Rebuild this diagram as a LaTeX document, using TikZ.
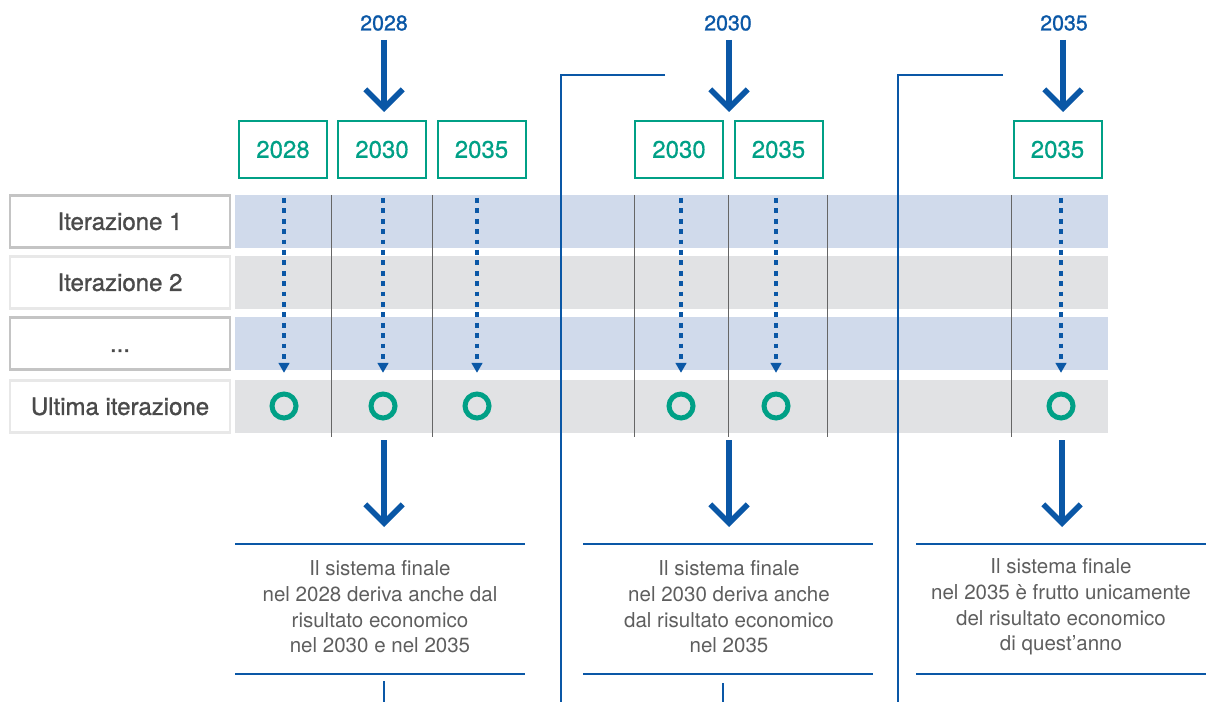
\documentclass[tikz,border=0pt]{standalone}
\usepackage{fontspec}
\setmainfont{TeX Gyre Heros}
\newfontfamily\mediumface[FakeBold=1.1]{TeX Gyre Heros}
\newfontfamily\semiface[FakeBold=0.5]{TeX Gyre Heros}
\usetikzlibrary{arrows.meta}

\definecolor{mainblue}{HTML}{0A57A6}
\definecolor{yeargreen}{HTML}{00A086}
\definecolor{bandblue}{HTML}{D0DAEB}
\definecolor{bandgray}{HTML}{E1E2E4}
\definecolor{frameA}{HTML}{C4C4C4}
\definecolor{frameB}{HTML}{E8E8E8}
\definecolor{labeltext}{HTML}{4A4A4A}
\definecolor{notetext}{HTML}{5E5E5E}
\definecolor{gridline}{HTML}{666666}

\tikzset{
  rowlabel/.style={draw=#1, line width=1.6pt, fill=white, inner sep=0pt,
    minimum width=165pt, minimum height=39pt, text=labeltext,
    text height=12.6pt, text depth=0pt,
    font=\mediumface\fontsize{18pt}{21pt}\selectfont},
  yearbox/.style={draw=yeargreen, line width=1.5pt, inner sep=0pt,
    minimum width=66pt, minimum height=42.75pt, text=yeargreen,
    font=\semiface\fontsize{18pt}{21pt}\selectfont},
  yeartop/.style={text=mainblue, inner sep=0pt,
    font=\mediumface\fontsize{16pt}{19pt}\selectfont},
  result/.style={circle, draw=yeargreen, line width=3.75pt, inner sep=0pt,
    minimum size=18pt},
  dotarrow/.style={draw=mainblue, line width=2.3pt,
    dash pattern=on 3.6pt off 4.2pt,
    -{Triangle[length=7.5pt,width=8pt]}, shorten >=14pt},
  bigarrow/.style={draw=mainblue, line width=4.2pt,
    -{Straight Barb[length=14pt,width=28pt,line width=4.2pt]}},
  blueline/.style={draw=mainblue, line width=2.1pt},
  gridrule/.style={draw=gridline, line width=0.65pt},
  note/.style={align=center, text=notetext, inner sep=0pt,
    font=\fontsize{15.4pt}{19.2pt}\selectfont},
}

\begin{document}
\begin{tikzpicture}[x=0.75pt, y=-0.75pt]
\useasboundingbox (0,0) rectangle (1206,702);

% iteration bands
\fill[bandblue] (235,195) rectangle (1108,248);
\fill[bandgray] (235,256) rectangle (1108,309);
\fill[bandblue] (235,317) rectangle (1108,370);
\fill[bandgray] (235,380) rectangle (1108,433);

% column separators
\foreach \gx in {331,432,634,728,827,1011}
  \draw[gridrule] (\gx,195) -- (\gx,437);

% row labels
\node[rowlabel=frameA] (r1) at (120,221.5) {Iterazione 1};
\node[rowlabel=frameB] (r2) at (120,282.5) {Iterazione 2};
\node[rowlabel=frameA] (r3) at (120,343.5) {...};
\node[rowlabel=frameB] (r4) at (120,406.5) {Ultima iterazione};

% brackets separating the three cases
\coordinate (k1a) at (665,75);
\coordinate (k1b) at (561,75);
\coordinate (k1c) at (561,702);
\coordinate (k2a) at (1003,75);
\coordinate (k2b) at (898,75);
\coordinate (k2c) at (898,702);
\draw[blueline, line join=miter] (k1a) -- (k1b) -- (k1c);
\draw[blueline, line join=miter] (k2a) -- (k2b) -- (k2c);

% year boxes
\node[yearbox] (b1) at (283,149.5) {2028};
\node[yearbox] (b2) at (382,149.5) {2030};
\node[yearbox] (b3) at (481.5,149.5) {2035};
\node[yearbox] (b4) at (679,149.5) {2030};
\node[yearbox] (b5) at (778.5,149.5) {2035};
\node[yearbox] (b6) at (1057.5,149.5) {2035};

% reference years and their arrows
\node[yeartop] (t1) at (384,23) {2028};
\node[yeartop] (t2) at (728,23) {2030};
\node[yeartop] (t3) at (1064,23) {2035};
\coordinate (ta1) at (384,40);  \coordinate (te1) at (384,112);
\coordinate (ta2) at (729,40);  \coordinate (te2) at (729,112);
\coordinate (ta3) at (1063,40); \coordinate (te3) at (1063,112);
\draw[bigarrow] (ta1) -- (te1);
\draw[bigarrow] (ta2) -- (te2);
\draw[bigarrow] (ta3) -- (te3);

% final results on the last iteration
\node[result] (c1) at (284,406) {};
\node[result] (c2) at (383,406) {};
\node[result] (c3) at (477,406) {};
\node[result] (c4) at (681,406) {};
\node[result] (c5) at (776,406) {};
\node[result] (c6) at (1061,406) {};

% iterations flowing down to the result
\foreach \i/\dx in {1/284,2/383,3/477,4/681,5/776,6/1061}{
  \coordinate (d\i) at (\dx,198);
  \draw[dotarrow] (d\i) -- (c\i.north);
}

% arrows towards the conclusions
\coordinate (ba1) at (384,440);  \coordinate (be1) at (384,527);
\coordinate (ba2) at (729,440);  \coordinate (be2) at (729,527);
\coordinate (ba3) at (1062,440); \coordinate (be3) at (1062,527);
\draw[bigarrow] (ba1) -- (be1);
\draw[bigarrow] (ba2) -- (be2);
\draw[bigarrow] (ba3) -- (be3);

% conclusion panels
\coordinate (p1l) at (235,544); \coordinate (p1r) at (525,544);
\coordinate (q1l) at (235,674); \coordinate (q1r) at (525,674);
\coordinate (p2l) at (583,544); \coordinate (p2r) at (873,544);
\coordinate (q2l) at (583,674); \coordinate (q2r) at (873,674);
\coordinate (p3l) at (916,544); \coordinate (p3r) at (1206,544);
\coordinate (q3l) at (916,674); \coordinate (q3r) at (1206,674);
\draw[blueline] (p1l) -- (p1r);
\draw[blueline] (q1l) -- (q1r);
\draw[blueline] (p2l) -- (p2r);
\draw[blueline] (q2l) -- (q2r);
\draw[blueline] (p3l) -- (p3r);
\draw[blueline] (q3l) -- (q3r);

\node[note] (n1) at (380,607) {Il sistema finale\\nel 2028 deriva anche dal\\risultato economico\\nel 2030 e nel 2035};
\node[note] (n2) at (729,607) {Il sistema finale\\nel 2030 deriva anche\\dal risultato economico\\nel 2035};
\node[note] (n3) at (1061,607) {Il sistema finale\\nel 2035 è frutto unicamente\\del risultato economico\\di quest’anno};

% continuation stubs
\coordinate (s1a) at (384,681); \coordinate (s1b) at (384,702);
\coordinate (s2a) at (723,683); \coordinate (s2b) at (723,702);
\draw[blueline] (s1a) -- (s1b);
\draw[blueline] (s2a) -- (s2b);
\end{tikzpicture}
\end{document}
